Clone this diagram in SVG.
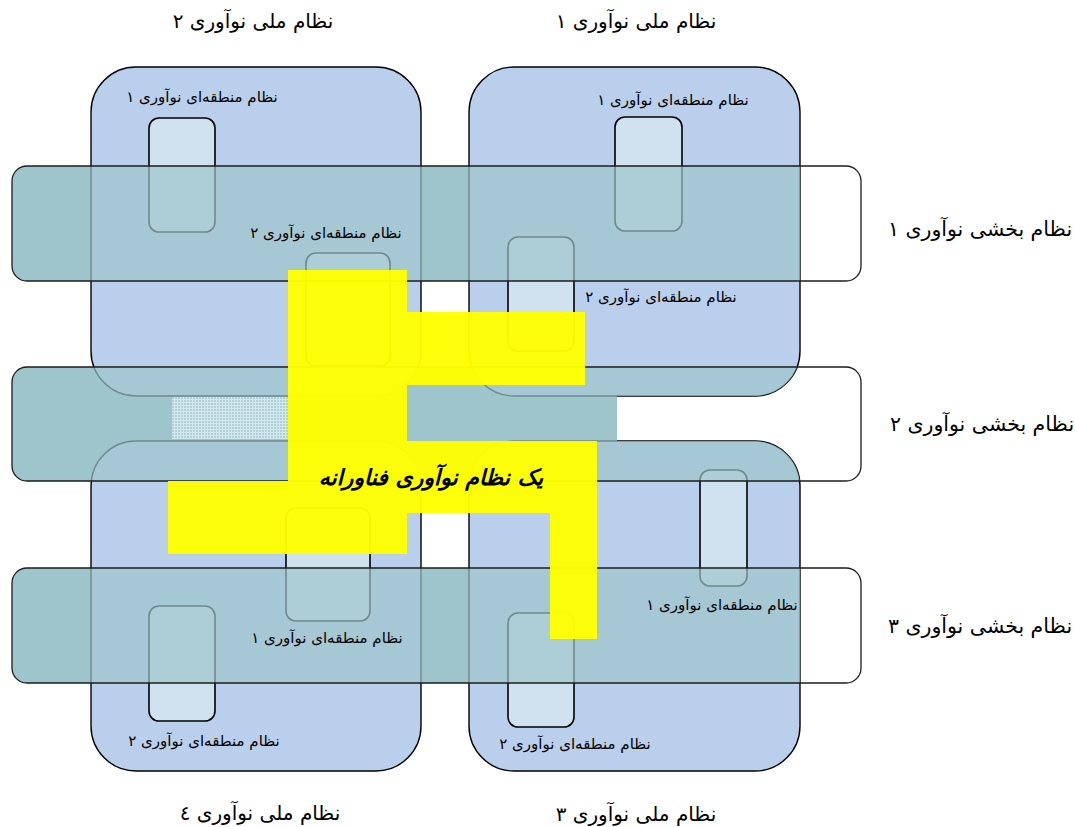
<svg xmlns="http://www.w3.org/2000/svg" width="1075" height="827" viewBox="0 0 1075 827">
<style>
.base{fill:#9ec5cc}
.nat{fill:#b9cfec;stroke:#000;stroke-width:1.4}
.reg{fill:#d0e1f0;stroke:#000;stroke-width:1.6}
.tint{fill:#9ec5cc;fill-opacity:0.7}
.band{fill:none;stroke:#1c1c1c;stroke-width:1.3}
.yel{fill:#ffff00;fill-opacity:0.96}
text{font-family:'DejaVu Sans','Noto Sans',sans-serif;fill:#000;text-anchor:middle}
.s{font-size:15px}
.b{font-size:20px}
.sec{font-size:20.5px}
.c{font-size:22px;font-weight:bold;font-style:italic}
</style>
<defs>
<pattern id="hatch" width="3" height="3" patternUnits="userSpaceOnUse">
<rect width="3" height="3" fill="#aed1d8"/>
<rect width="3" height="1" fill="#d3e8ec"/>
<rect width="1" height="3" fill="#d3e8ec"/>
</pattern>
<clipPath id="natClip">
<rect x="469" y="67" width="331" height="329" rx="45"/>
<rect x="469" y="441" width="331" height="330" rx="45"/>
</clipPath>
</defs>

<g id="band-bases">
<path class="base" d="M27,166 H790 V281 H27 A15,15 0 0 1 12,266 V181 A15,15 0 0 1 27,166 Z"/>
<path class="base" d="M27,367 H617 V481 H27 A15,15 0 0 1 12,466 V382 A15,15 0 0 1 27,367 Z"/>
<path class="base" d="M27,568 H790 V683 H27 A15,15 0 0 1 12,668 V583 A15,15 0 0 1 27,568 Z"/>
</g>

<g id="national-2"><rect class="nat" x="91" y="67" width="330" height="329" rx="45"/></g>
<g id="national-1"><rect class="nat" x="469" y="67" width="331" height="329" rx="45"/></g>
<g id="national-4"><rect class="nat" x="91" y="441" width="330" height="330" rx="45"/></g>
<g id="national-3"><rect class="nat" x="469" y="441" width="331" height="330" rx="45"/></g>

<g id="regional-boxes">
<rect class="reg" x="149" y="118" width="66" height="114" rx="10"/>
<rect class="reg" x="306" y="253" width="84" height="113" rx="10"/>
<rect class="reg" x="615" y="117" width="67" height="114" rx="10"/>
<rect class="reg" x="508" y="237" width="66" height="114" rx="10"/>
<rect class="reg" x="700" y="470" width="47" height="116" rx="10"/>
<rect class="reg" x="508" y="613" width="66" height="114" rx="10"/>
<rect class="reg" x="286" y="508" width="84" height="113" rx="10"/>
<rect class="reg" x="149" y="606" width="66" height="115" rx="10"/>
</g>

<g id="band-tints">
<path class="tint" d="M27,166 H800 V281 H27 A15,15 0 0 1 12,266 V181 A15,15 0 0 1 27,166 Z"/>
<path class="tint" d="M27,367 H617 V481 H27 A15,15 0 0 1 12,466 V382 A15,15 0 0 1 27,367 Z"/>
<rect class="tint" x="617" y="367" width="183" height="114" clip-path="url(#natClip)"/>
<path class="tint" d="M27,568 H800 V683 H27 A15,15 0 0 1 12,668 V583 A15,15 0 0 1 27,568 Z"/>
<rect x="172" y="397" width="117" height="42" fill="url(#hatch)"/>
</g>

<g id="sectoral-1"><rect class="band" x="12" y="166" width="849" height="115" rx="15"/></g>
<g id="sectoral-2"><rect class="band" x="12" y="367" width="849" height="114" rx="15"/></g>
<g id="sectoral-3"><rect class="band" x="12" y="568" width="849" height="115" rx="15"/></g>

<g id="tis">
<path class="yel" d="M288,270 H407 V312 H585 V385 H407 V441 H597 V639 H550 V513 H407 V554 H168 V481 H288 Z"/>
<text class="c" x="431" y="485" direction="rtl">یک نظام نوآوری فناورانه</text>
</g>

<g id="labels">
<text class="b" x="253" y="28" direction="rtl">نظام ملی نوآوری ۲</text>
<text class="b" x="636" y="28" direction="rtl">نظام ملی نوآوری ۱</text>
<text class="b" x="260" y="820" direction="rtl">نظام ملی نوآوری ٤</text>
<text class="b" x="636" y="821" direction="rtl">نظام ملی نوآوری ۳</text>
<text class="sec" x="980" y="236" direction="rtl">نظام بخشی نوآوری ۱</text>
<text class="sec" x="982" y="431" direction="rtl">نظام بخشی نوآوری ۲</text>
<text class="sec" x="980" y="633" direction="rtl">نظام بخشی نوآوری ۳</text>
<text class="s" x="202" y="102" direction="rtl">نظام منطقه‌ای نوآوری ۱</text>
<text class="s" x="326" y="238" direction="rtl">نظام منطقه‌ای نوآوری ۲</text>
<text class="s" x="673" y="105" direction="rtl">نظام منطقه‌ای نوآوری ۱</text>
<text class="s" x="661" y="302" direction="rtl">نظام منطقه‌ای نوآوری ۲</text>
<text class="s" x="722" y="610" direction="rtl">نظام منطقه‌ای نوآوری ۱</text>
<text class="s" x="575" y="749" direction="rtl">نظام منطقه‌ای نوآوری ۲</text>
<text class="s" x="327" y="643" direction="rtl">نظام منطقه‌ای نوآوری ۱</text>
<text class="s" x="204" y="746" direction="rtl">نظام منطقه‌ای نوآوری ۲</text>
</g>
</svg>
